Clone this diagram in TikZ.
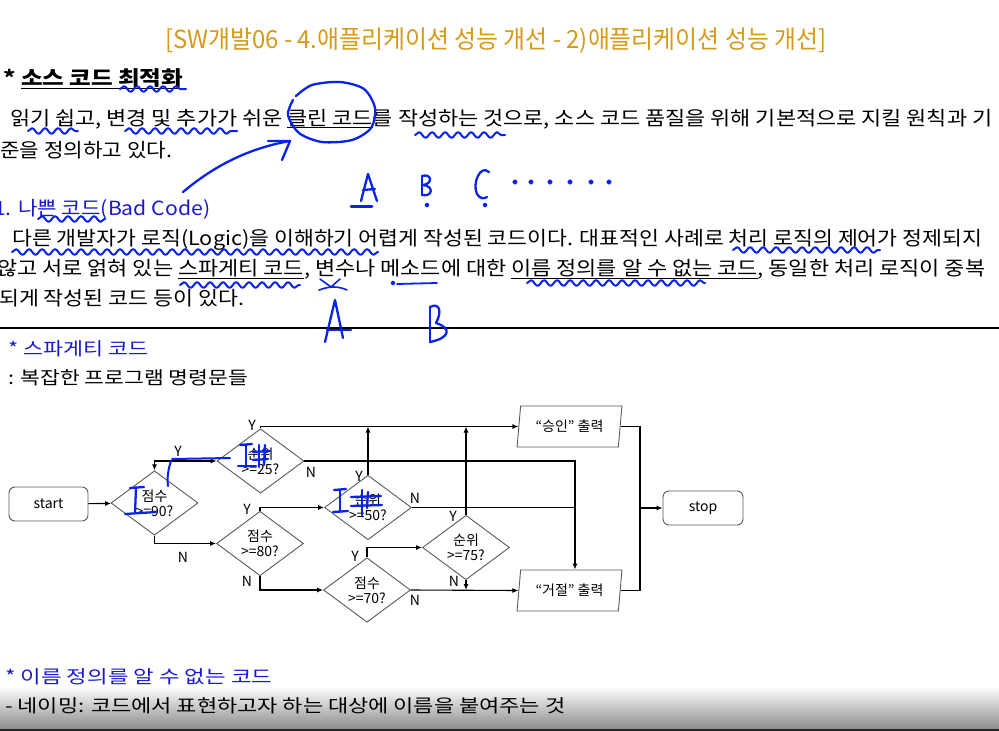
\documentclass[tikz,border=0pt]{standalone}
\usepackage{graphicx}
\usepackage{fontspec}
\setmainfont{Noto Sans CJK KR}
\usetikzlibrary{shapes.geometric,arrows.meta,decorations.pathmorphing}
\definecolor{gold}{RGB}{215,155,25}
\definecolor{tblue}{RGB}{25,25,205}
\definecolor{pen}{RGB}{10,35,235}
\definecolor{edge}{RGB}{90,90,90}
\newcommand\fitto[2]{\resizebox{#1}{\height}{#2}}
\tikzset{
  txt/.style={anchor=base west, inner sep=0pt, font=\fontsize{19.5}{22}\selectfont},
  sub/.style={anchor=base west, inner sep=0pt, font=\fontsize{18}{21}\selectfont},
  dia/.style={diamond, draw=edge, line width=0.9pt, minimum width=87pt, minimum height=62pt, inner sep=0pt, align=center, font=\fontsize{14}{15}\selectfont},
  para/.style={trapezium, trapezium left angle=79, trapezium right angle=101, trapezium stretches=true, draw=edge, line width=0.9pt, minimum width=105pt, minimum height=41pt, inner sep=0pt, font=\fontsize{14}{15}\selectfont},
  term/.style={draw=edge, line width=0.9pt, rounded corners=6pt, minimum width=79pt, minimum height=34pt, inner sep=0pt, font=\fontsize{14}{15}\selectfont},
  lab/.style={inner sep=0pt, font=\fontsize{14}{15}\selectfont},
  fl/.style={line width=1.1pt, black},
  arr/.style={fl, -{Latex[length=6pt,width=5pt]}},
  pen/.style={draw=pen, line width=2.3pt, line cap=round, line join=round},
  squig/.style={pen, line width=2pt, decorate, decoration={snake, segment length=13pt, amplitude=2.8pt}}
}
\begin{document}
\begin{tikzpicture}[x=1pt,y=-1pt]
\useasboundingbox (0,0) rectangle (999,731);
\fill[white] (0,0) rectangle (999,731);
% bottom shading of the screen
\shade[top color=white, bottom color=black!45] (0,686) rectangle (999,729);
\fill[black!85] (0,729) rectangle (999,731);

% ---- title and texts
\node[anchor=base west, inner sep=0pt, text=gold, font=\fontsize{25}{28}\selectfont] (title) at (165,48) {\fitto{661pt}{[SW개발06 - 4.애플리케이션 성능 개선 - 2)애플리케이션 성능 개선]}};
\node[anchor=base west, inner sep=0pt, font=\fontsize{20}{24}\selectfont\bfseries] (head) at (3,85) {\fitto{180pt}{* \underline{소스 코드 최적화}}};
\node[txt] (l1) at (10,125) {\fitto{982pt}{읽기 쉽고, 변경 및 추가가 쉬운 \underline{클린 코드}를 작성하는 것으로, 소스 코드 품질을 위해 기본적으로 지킬 원칙과 기}};
\node[txt] (l2) at (0,157) {\fitto{172pt}{준을 정의하고 있다.}};
\node[txt, text=tblue] (bad) at (-6,215) {\fitto{216pt}{1. 나쁜 코드(Bad Code)}};
\node[txt] (l3) at (12,245) {\fitto{970pt}{다른 개발자가 로직(Logic)을 이해하기 어렵게 작성된 코드이다. 대표적인 사례로 처리 로직의 제어가 정제되지}};
\node[txt] (l4) at (-3,275) {\fitto{988pt}{않고 서로 얽혀 있는 \underline{스파게티 코드}, 변수나 메소드에 대한 \underline{이름 정의를 알 수 없는 코드}, 동일한 처리 로직이 중복}};
\node[txt] (l5) at (-1,305) {\fitto{245pt}{되게 작성된 코드 등이 있다.}};
\draw[line width=1.2pt] (0,328) coordinate (rl) -- (999,328) coordinate (rr);
\node[sub, text=tblue] (spa) at (8,355) {\fitto{140pt}{* 스파게티 코드}};
\node[sub] (spad) at (8,384) {\fitto{240pt}{: 복잡한 프로그램 명령문들}};
\node[sub, text=tblue] (nam) at (5,683) {\fitto{267pt}{* 이름 정의를 알 수 없는 코드}};
\node[sub] (namd) at (5,712) {\fitto{560pt}{- 네이밍: 코드에서 표현하고자 하는 대상에 이름을 붙여주는 것}};

% ---- flowchart
\node[term] (start) at (48.5,504) {start};
\node[dia] (d1) at (154.5,503) {점수\\>=90?};
\node[dia] (d2) at (260.5,461) {순위\\>=25?};
\node[dia] (d3) at (260,543.5) {점수\\>=80?};
\node[dia] (d4) at (368,507.5) {순위\\>=50?};
\node[dia] (d5) at (367,590) {점수\\>=70?};
\node[dia] (d6) at (466,547.5) {순위\\>=75?};
\node[para] (ok) at (569.5,426.5) {“승인” 출력};
\node[para] (no) at (569.5,590.5) {“거절” 출력};
\node[term, minimum width=80pt] (stop) at (703,508) {stop};
\coordinate (vx) at (575,0);
\coordinate (jr) at (640,508);
\coordinate (d1up) at (154.5,461);

\draw[arr] (start) -- (d1);
\draw[fl, {Latex[length=6pt,width=5pt]}-{Latex[length=6pt,width=5pt]}] (d1.north) -- (d1up) -- (d2.west);
\draw[arr] (d2.north) |- (ok.west);
\draw[arr] (d2.east) -| (vx |- no.north);
\draw[arr] (d1.south) |- (d3.west);
\draw[arr] (d3.north) |- (d4.west);
\draw[arr] (d4.north) -- (d4.north |- ok.west);
\draw[fl] (d4.east) -- (vx |- d4.east);
\draw[arr] (d3.south) |- (d5.west);
\draw[arr] (d5.north) |- (d6.west);
\draw[arr] (d6.north) -- (d6.north |- ok.west);
\draw[arr] (d6.south) -- (d6.south |- d5.east);
\draw[arr] (d5.east) -- (no.west);
\draw[fl] (ok.east) -| (jr) |- (no.east);
\draw[arr] (jr) -- (stop.west);

\node[lab] (y1) at (178,451) {Y};
\node[lab] (y2) at (252,425) {Y};
\node[lab] (n2) at (311,472) {N};
\node[lab] (n1) at (183,557) {N};
\node[lab] (y3) at (247,509) {Y};
\node[lab] (n3) at (247,581) {N};
\node[lab] (y4) at (359,476) {Y};
\node[lab] (n4) at (415,498) {N};
\node[lab] (y5) at (355,556) {Y};
\node[lab] (y6) at (453,516) {Y};
\node[lab] (n6) at (454,581) {N};
\node[lab] (n5) at (415,600) {N};

% ---- handwritten marks
\draw[pen] plot[smooth] coordinates {(296,96) (312,85) (340,82) (364,89) (375,108) (371,128) (352,140) (322,142) (299,133) (288,115) (293,100)};
\draw[pen] (183,192) .. controls (215,165) and (250,148) .. (290,141);
\draw[pen] (268,141) -- (290,141) -- (282,160);
\draw[squig] (120,89) -- (186,89);
\draw[squig] (28,131) -- (78,131);
\draw[squig] (125,131) -- (237,131);
\draw[squig] (415,135) -- (505,135);
\draw[squig] (38,219) -- (105,219);
\draw[squig] (12,252) -- (378,252);
\draw[squig] (733,250) -- (880,250);
\draw[squig] (180,285) -- (300,285);
\draw[squig] (527,283) -- (705,283);
% A B C ......
\draw[pen] (361,201) -- (368,174) -- (377,201);
\draw[pen] (363,190) -- (375,189);
\draw[pen, line width=3pt] (351,206) -- (372,206);
\draw[pen] (422,176) -- (422,195);
\draw[pen] (422,176) .. controls (432,173) and (433,184) .. (423,185) .. controls (434,186) and (433,197) .. (422,195);
\draw[pen] (489,172) .. controls (480,164) and (472,184) .. (477,194) .. controls (480,199) and (484,199) .. (487,197);
\foreach \dx in {515,531,550,570,591,609} \fill[pen] (\dx,182) circle (1.5pt);
\fill[pen] (427,205) circle (1.3pt);
\fill[pen] (485,205) circle (1.3pt);
% marks near variable/method
\draw[pen, line width=1.6pt] (320,279) -- (331,287) -- (340,279);
\draw[pen, line width=1.6pt] (319,290) .. controls (330,286) and (338,286) .. (347,290);
\fill[pen] (393,283) circle (1.3pt);
\draw[pen, line width=1.8pt] (397,284) -- (437,283);
% A B below
\draw[pen] (325,342) -- (335,300) -- (343,338);
\draw[pen] (327,330) -- (351,330);
\draw[pen] (430,307) -- (430,342);
\draw[pen] (430,307) .. controls (440,302) and (442,312) .. (436,323) .. controls (452,328) and (450,338) .. (430,342);
% marks in the flowchart
\draw[pen] (130,488) -- (144,487);
\draw[pen] (136,488) -- (135,513);
\draw[pen] (125,514) -- (156,512);
\draw[pen, line width=2pt] (171,461) .. controls (168,470) and (167,478) .. (168,486);
\draw[pen, line width=2pt] (172,459) -- (230,458);
\draw[pen] (240,445) -- (252,444);
\draw[pen] (246,445) -- (246,466);
\draw[pen] (238,466) -- (256,466);
\draw[pen] (259,445) -- (259,467);
\draw[pen] (265,445) -- (264,465);
\draw[pen] (253,452) -- (270,451);
\draw[pen] (253,460) -- (268,459);
\draw[pen] (334,490) -- (346,489);
\draw[pen] (340,490) -- (340,512);
\draw[pen] (333,512) -- (348,511);
\draw[pen] (362,490) -- (362,515);
\draw[pen] (368,492) -- (367,508);
\draw[pen] (351,497) -- (381,496);
\draw[pen] (351,506) -- (382,505);
\end{tikzpicture}
\end{document}
